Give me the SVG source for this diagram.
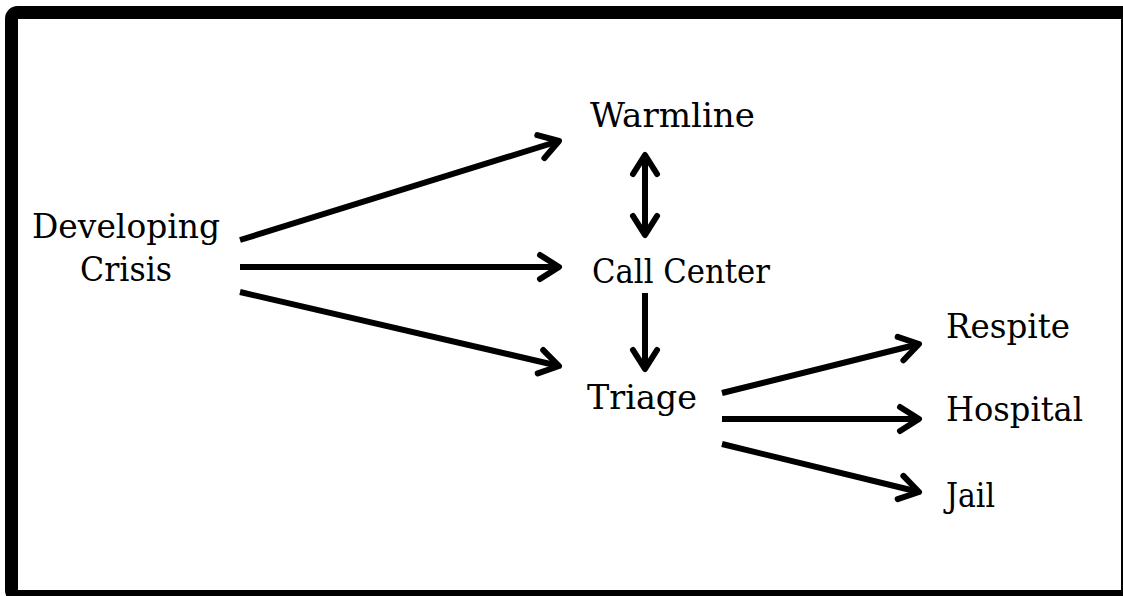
<svg xmlns="http://www.w3.org/2000/svg" width="1123" height="596" viewBox="0 0 1123 596">
  <style>
    .lbl { font-family: "DejaVu Serif", "Liberation Serif", serif; font-size: 34px; fill: #000; }
    .conn { stroke: #000; stroke-width: 6; fill: none; stroke-linecap: butt; marker-end: url(#chev); }
  </style>
  <defs>
    <marker id="chev" markerUnits="userSpaceOnUse" viewBox="-30 -20 40 40" markerWidth="40" markerHeight="40" refX="0" refY="0" orient="auto-start-reverse" overflow="visible">
      <path d="M-19,-12 L0,0 L-19,12" fill="none" stroke="#000" stroke-width="6" stroke-linecap="round" stroke-linejoin="round"/>
    </marker>
  </defs>
  <rect x="0" y="0" width="1123" height="596" fill="#fff"/>
  <rect id="frame" x="11.5" y="12.5" width="1116" height="584" rx="6" fill="none" stroke="#000" stroke-width="13"/>

  <g id="connectors">
    <line class="conn" x1="240" y1="240" x2="559" y2="141"/>
    <line class="conn" x1="240" y1="267" x2="559" y2="267"/>
    <line class="conn" x1="240" y1="292" x2="559" y2="366"/>
    <line class="conn" x1="645" y1="155" x2="645" y2="235" style="marker-start:url(#chev)"/>
    <line class="conn" x1="645" y1="293" x2="645" y2="369"/>
    <line class="conn" x1="722" y1="393" x2="919" y2="344"/>
    <line class="conn" x1="722" y1="419" x2="919" y2="419"/>
    <line class="conn" x1="722" y1="444" x2="919" y2="492"/>
  </g>

  <g id="node-developing-crisis">
    <text class="lbl" x="32" y="238" textLength="188" lengthAdjust="spacingAndGlyphs">Developing</text>
    <text class="lbl" x="80" y="281" textLength="92" lengthAdjust="spacingAndGlyphs">Crisis</text>
  </g>
  <g id="node-warmline"><text class="lbl" x="590" y="127" textLength="165" lengthAdjust="spacingAndGlyphs">Warmline</text></g>
  <g id="node-call-center"><text class="lbl" x="592" y="283" textLength="178" lengthAdjust="spacingAndGlyphs">Call Center</text></g>
  <g id="node-triage"><text class="lbl" x="587" y="409" textLength="110" lengthAdjust="spacingAndGlyphs">Triage</text></g>
  <g id="node-respite"><text class="lbl" x="946" y="338" textLength="124" lengthAdjust="spacingAndGlyphs">Respite</text></g>
  <g id="node-hospital"><text class="lbl" x="946" y="421" textLength="137" lengthAdjust="spacingAndGlyphs">Hospital</text></g>
  <g id="node-jail"><text class="lbl" x="946" y="507" textLength="49" lengthAdjust="spacingAndGlyphs">Jail</text></g>
</svg>
